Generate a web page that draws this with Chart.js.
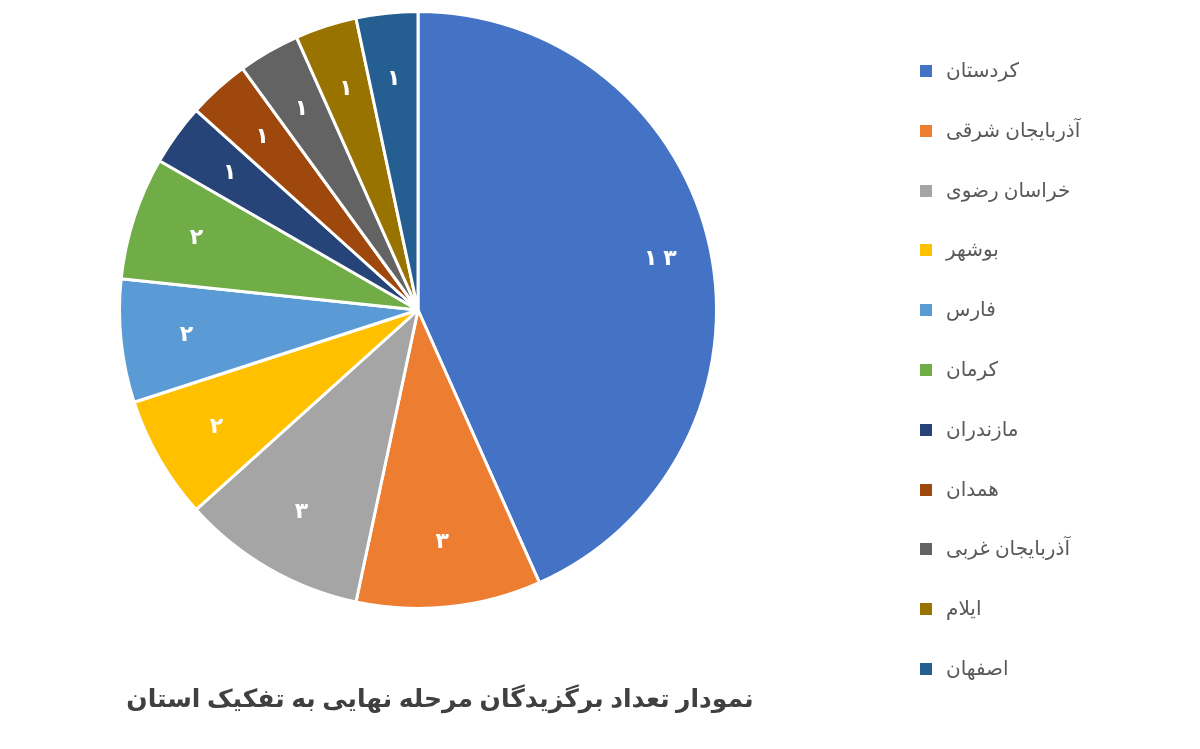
<!DOCTYPE html>
<html><head><meta charset="utf-8">
<script src="https://cdn.jsdelivr.net/npm/chart.js@4"></script>
<style>
body{margin:0;background:#fff;width:1200px;height:749px;overflow:hidden;position:relative;font-family:"Noto Sans","DejaVu Sans",sans-serif}
#wrap{position:absolute;left:0;top:0;width:1200px;height:749px}
#legend{position:absolute;left:920px;top:56px}
.item{height:59.8px;display:flex;align-items:flex-start;font-size:20px;color:#595959}
.sq{width:12px;height:12px;margin-top:9px;margin-right:14px;flex:none}
#title{position:absolute;left:100px;top:680px;width:680px;text-align:center;font-size:25px;font-weight:bold;color:#404040;direction:rtl}
</style></head><body>
<div id="wrap"><canvas id="c" width="1200" height="749"></canvas></div>
<div id="legend"></div>
<div id="title">نمودار تعداد برگزیدگان مرحله نهایی به تفکیک استان</div>
<script>
const categories=["کردستان","آذربایجان شرقی","خراسان رضوی","بوشهر","فارس","کرمان","مازندران","همدان","آذربایجان غربی","ایلام","اصفهان"];
const values=[13,3,3,2,2,2,1,1,1,1,1];
const valueLabels=["۱ ۳","۳","۳","۲","۲","۲","۱","۱","۱","۱","۱"];
const colors=["#4472C4","#ED7D31","#A5A5A5","#FFC000","#5B9BD5","#70AD47","#264478","#9E480E","#636363","#997300","#255E91"];
const lg=document.getElementById('legend');
categories.forEach((c,i)=>{const d=document.createElement('div');d.className='item';d.innerHTML='<span class="sq" style="background:'+colors[i]+'"></span><span dir="rtl">'+c+'</span>';lg.appendChild(d);});
const labelPlugin={id:'lbl',afterDatasetsDraw(ch){const ctx=ch.ctx;const m=ch.getDatasetMeta(0);ctx.save();ctx.fillStyle='#fff';ctx.font='bold 22px "Noto Sans","DejaVu Sans"';ctx.textAlign='center';ctx.textBaseline='middle';
m.data.forEach((a,i)=>{const p=a.getProps(['x','y','startAngle','endAngle','outerRadius']);const ang=(p.startAngle+p.endAngle)/2;const r=p.outerRadius*(values[i]>5?0.83:0.78);ctx.fillText(valueLabels[i],p.x+Math.cos(ang)*r,p.y+Math.sin(ang)*r);});ctx.restore();}};
new Chart(document.getElementById('c'),{type:'pie',data:{labels:categories,datasets:[{data:values,backgroundColor:colors,borderColor:'#fff',borderWidth:3}]},
options:{responsive:false,animation:false,layout:{padding:{left:118,right:482,top:10,bottom:139}},plugins:{legend:{display:false},tooltip:{enabled:false}}},plugins:[labelPlugin]});
</script></body></html>
